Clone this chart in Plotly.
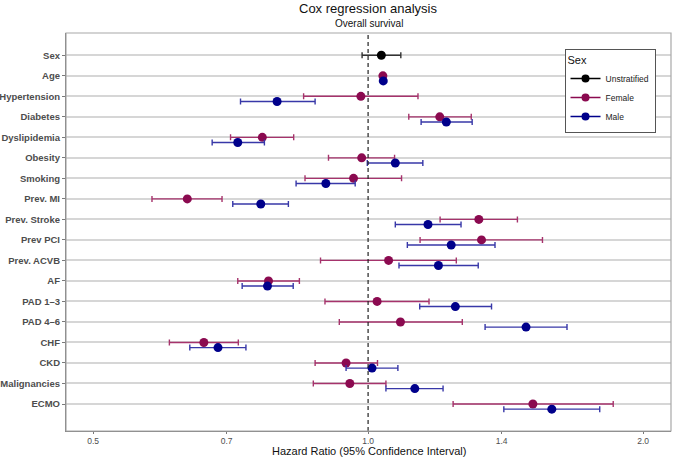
import plotly.graph_objects as go

categories = ["Sex", "Age", "Hypertension", "Diabetes", "Dyslipidemia", "Obesity",
              "Smoking", "Prev. MI", "Prev. Stroke", "Prev PCI", "Prev. ACVB", "AF",
              "PAD 1\u20133", "PAD 4\u20136", "CHF", "CKD", "Malignancies", "ECMO"]

unstrat_hr = [1.034] + [None] * 17
unstrat_lo = [0.985] + [None] * 17
unstrat_hi = [1.086] + [None] * 17

female_hr = [None, 1.038, 0.982, 1.198, 0.766, 0.984, 0.964, 0.634, 1.322, 1.331, 1.053, 0.778,
             1.023, 1.085, 0.661, 0.946, 0.955, 1.515]
female_lo = [None, 1.036, 0.850, 1.108, 0.707, 0.905, 0.853, 0.580, 1.199, 1.140, 0.887, 0.720,
             0.897, 0.930, 0.606, 0.875, 0.871, 1.239]
female_hi = [None, 1.040, 1.134, 1.297, 0.829, 1.069, 1.088, 0.692, 1.457, 1.552, 1.249, 0.841,
             1.166, 1.268, 0.721, 1.024, 1.046, 1.855]

male_hr = [None, 1.039, 0.795, 1.218, 0.720, 1.071, 0.899, 0.763, 1.163, 1.233, 1.194, 0.776,
           1.246, 1.489, 0.685, 1.010, 1.125, 1.589]
male_lo = [None, 1.037, 0.725, 1.143, 0.675, 0.998, 0.834, 0.711, 1.071, 1.104, 1.081, 0.728,
           1.139, 1.343, 0.638, 0.946, 1.046, 1.408]
male_hi = [None, 1.041, 0.875, 1.300, 0.770, 1.148, 0.968, 0.818, 1.264, 1.377, 1.320, 0.828,
           1.365, 1.651, 0.735, 1.078, 1.208, 1.793]

x_ticks = [0.5, 0.7, 1.0, 1.4, 2.0]
x_tick_labels = ["0.5", "0.7", "1.0", "1.4", "2.0"]

FONT = "Liberation Sans, Arial, sans-serif"

n = len(categories)
ypos = [n - i for i in range(n)]

groups = [
    ("Unstratified", unstrat_hr, unstrat_lo, unstrat_hi, 0.0, "#000000", "#333333"),
    ("Female", female_hr, female_lo, female_hi, 0.0, "#8B0A50", "#A6336C"),
    ("Male", male_hr, male_lo, male_hi, -0.25, "#00008B", "#3838A8"),
]

fig = go.Figure()
for name, hr, lo, hi, off, col, ecol in groups:
    xs, ys, ep, em = [], [], [], []
    for i in range(n):
        if hr[i] is None:
            continue
        xs.append(hr[i])
        ys.append(ypos[i] + off)
        ep.append(hi[i] - hr[i])
        em.append(hr[i] - lo[i])
    fig.add_trace(go.Scatter(
        x=xs, y=ys, mode="markers", name=name, showlegend=False,
        marker=dict(color=col, size=9),
        error_x=dict(type="data", symmetric=False, array=ep, arrayminus=em,
                     color=ecol, thickness=1.4, width=3),
    ))
    fig.add_trace(go.Scatter(
        x=[None], y=[None], mode="lines+markers", name=name, showlegend=True,
        marker=dict(color=col, size=8), line=dict(color=col, width=1.5),
    ))

fig.add_vline(x=1.0, line=dict(color="#222222", width=1.2, dash="4px,3px"))

# panel border (light grey)
fig.add_shape(type="rect", xref="paper", yref="paper", x0=0, x1=1, y0=0, y1=1,
              line=dict(color="#a8a8a8", width=1.2), layer="above")

fig.update_xaxes(type="log", range=[-0.3307, 0.3316], tickvals=x_ticks, ticktext=x_tick_labels,
                 automargin=False,
                 showgrid=False, zeroline=False, showline=True, linecolor="#7a7a7a", linewidth=1.2,
                 ticks="outside", ticklen=2, tickcolor="#7a7a7a",
                 tickfont=dict(family=FONT, size=8.5, color="#4d4d4d"))
fig.update_yaxes(range=[-0.316, 19.087], tickvals=ypos, ticktext=["<b>%s</b>" % c for c in categories],
                 automargin=False,
                 showgrid=True, gridcolor="#d6d6d6", gridwidth=1.5, zeroline=False,
                 showline=True, linecolor="#6e6e6e", linewidth=1.2,
                 ticks="outside", ticklen=3, tickcolor="#7a7a7a",
                 tickfont=dict(family=FONT, size=9.5, color="#4d4d4d"))

fig.update_layout(
    width=677, height=457,
    margin=dict(l=66, r=6, t=33, b=26, autoexpand=False),
    plot_bgcolor="white", paper_bgcolor="white",
    showlegend=True,
    legend=dict(x=0.8992, y=0.9608, xanchor="center", yanchor="top",
                bgcolor="white", bordercolor="#555555", borderwidth=1,
                title=dict(text="Sex", font=dict(family=FONT, size=11, color="#111111")),
                font=dict(family=FONT, size=8.5, color="#222222"),
                itemwidth=30, tracegroupgap=0),
    annotations=[
        dict(text="Cox regression analysis", xref="paper", yref="paper", x=0.5, y=1.0608,
             xanchor="center", yanchor="middle", showarrow=False,
             font=dict(family=FONT, size=13, color="#111111")),
        dict(text="Overall survival", xref="paper", yref="paper", x=0.5, y=1.0244,
             xanchor="center", yanchor="middle", showarrow=False,
             font=dict(family=FONT, size=10, color="#111111")),
        dict(text="Hazard Ratio (95% Confidence Interval)", xref="paper", yref="paper",
             x=0.5, y=-0.051, xanchor="center", yanchor="middle", showarrow=False,
             font=dict(family=FONT, size=11, color="#111111")),
    ],
)

fig.write_html("out.html", config={"displayModeBar": False},
               post_script="document.body.style.margin='0';document.body.style.padding='0';"
                           "document.body.style.overflow='hidden';")
